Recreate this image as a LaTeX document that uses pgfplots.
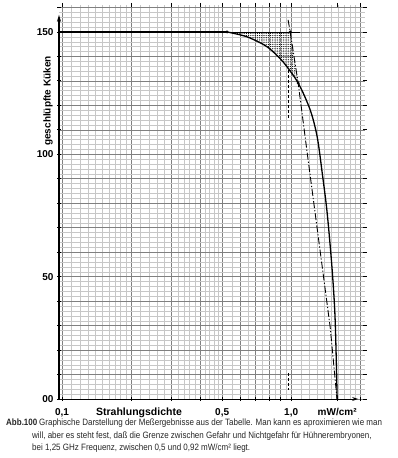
\documentclass[border=0pt]{standalone}
\usepackage{fontspec}
\setmainfont{Liberation Sans}
\newfontfamily\capfont{Liberation Sans}[FakeStretch=0.87]
\usepackage{pgfplots}
\pgfplotsset{compat=1.18}
\usetikzlibrary{patterns.meta,arrows.meta}
\begin{document}
\begin{tikzpicture}
\path[use as bounding box] (-59pt,-59pt) rectangle (338pt,399pt);
\begin{axis}[
  at={(0pt,0pt)}, anchor=south west,
  scale only axis, width=306pt, height=394pt,
  xmode=log, xmin=0.097, xmax=2.1, ymin=0, ymax=161,
  axis line style={draw=none},
  xtick={0.1,0.2,0.3,0.4,0.5,0.6,0.7,0.8,0.9,1,2},
  xticklabels={{0,1},{},{},{},{0,5},{},{},{},{},{1,0},{}},
  extra x ticks={1.588}, extra x tick labels={mW/cm²},
  extra x tick style={grid=none},
  minor xtick={0.11,0.12,0.13,0.14,0.15,0.16,0.17,0.18,0.19,0.22,0.24,0.26,0.28,0.32,0.34,0.36,0.38,0.42,0.44,0.46,0.48,0.55,0.65,0.75,0.85,0.95,1.1,1.2,1.3,1.4,1.5,1.6,1.7,1.8,1.9},
  ytick={0,10,...,160},
  yticklabels={00,,,,,50,,,,,100,,,,,150,},
  minor y tick num=4,
  grid=both,
  major grid style={black!50, line width=0.5pt},
  minor grid style={black!22, line width=0.3pt},
  tick style={black, line width=0.8pt},
  major tick length=4pt, minor tick length=0pt,
  tick align=center,
  ticklabel style={font=\fontsize{10}{12}\selectfont\bfseries},
  xticklabel style={yshift=-4pt},
  clip=false,
]
% dotted (uncertain) region
\addplot[draw=none, pattern={Dots[distance=2.2pt, radius=0.6pt]}, pattern color=black]
  coordinates {(0.525,150) (0.990,150) (1.073,129.1) (0.923,137.7) (0.786,143.9) (0.662,147.5) (0.599,148.8) (0.525,150)};
% extension of the 150 line
\addplot[black, line width=0.8pt] coordinates {(0.525,150) (1.095,150)};
% dash-dot approximation
\addplot[black, line width=0.9pt, dash pattern=on 7pt off 2pt on 1.2pt off 2pt]
  coordinates {(0.970,154.9) (0.990,150) (1.073,129.1) (1.175,100.5) (1.480,29.4) (1.585,0)};
% dashed marks
\addplot[black, line width=0.8pt, dash pattern=on 3pt off 2pt] coordinates {(0.970,134.4) (0.970,114.0)};
\addplot[black, line width=0.8pt, dash pattern=on 3pt off 2pt] coordinates {(0.970,10.6) (0.970,3.7)};
% main curve
\addplot[black, line width=1.3pt] coordinates {(0.097,150) (0.525,150)};
\addplot[black, line width=1.3pt, smooth, tension=0.5]
  coordinates {(0.525,150) (0.599,148.8) (0.662,147.5) (0.786,143.9) (0.923,137.7) (1.073,129.1) (1.211,118.1) (1.299,107.1) (1.366,92.4) (1.436,76.0) (1.510,52.7) (1.556,32.3) (1.588,0)};
\addplot[only marks, mark=*, mark size=1.3pt, black] coordinates {(0.525,150) (0.990,150) (1.073,129.1)};
% axes
\draw[line width=1.2pt, -{Stealth[length=7pt,width=4pt]}] (0.097,0) -- (0.097,157);
\draw[line width=1.0pt, -{Stealth[length=6pt,width=4pt]}] (0.097,0) -- (1.96,0);
\end{axis}
\node[rotate=90, font=\fontsize{10}{12}\selectfont\bfseries] at (-11pt,298pt) {geschlüpfte Küken};
\node[font=\fontsize{10.5}{12}\selectfont\bfseries] at (80pt,-14pt) {Strahlungsdichte};
\begin{scope}[every node/.style={anchor=base west, inner sep=0pt, font=\capfont\fontsize{9.2}{11}\selectfont, text=black!85}]
\node[font=\capfont\fontsize{9.2}{11}\selectfont\bfseries] at (-53pt,-26.5pt) {Abb.100};
\node at (-20pt,-26.5pt) {Graphische Darstellung der Meßergebnisse aus der Tabelle. Man kann es aproximieren wie man};
\node at (-27pt,-39pt) {will, aber es steht fest, daß die Grenze zwischen Gefahr und Nichtgefahr für Hühnerembryonen,};
\node at (-27pt,-51.5pt) {bei 1,25 GHz Frequenz, zwischen 0,5 und 0,92 mW/cm² liegt.};
\end{scope}
\end{tikzpicture}
\end{document}
